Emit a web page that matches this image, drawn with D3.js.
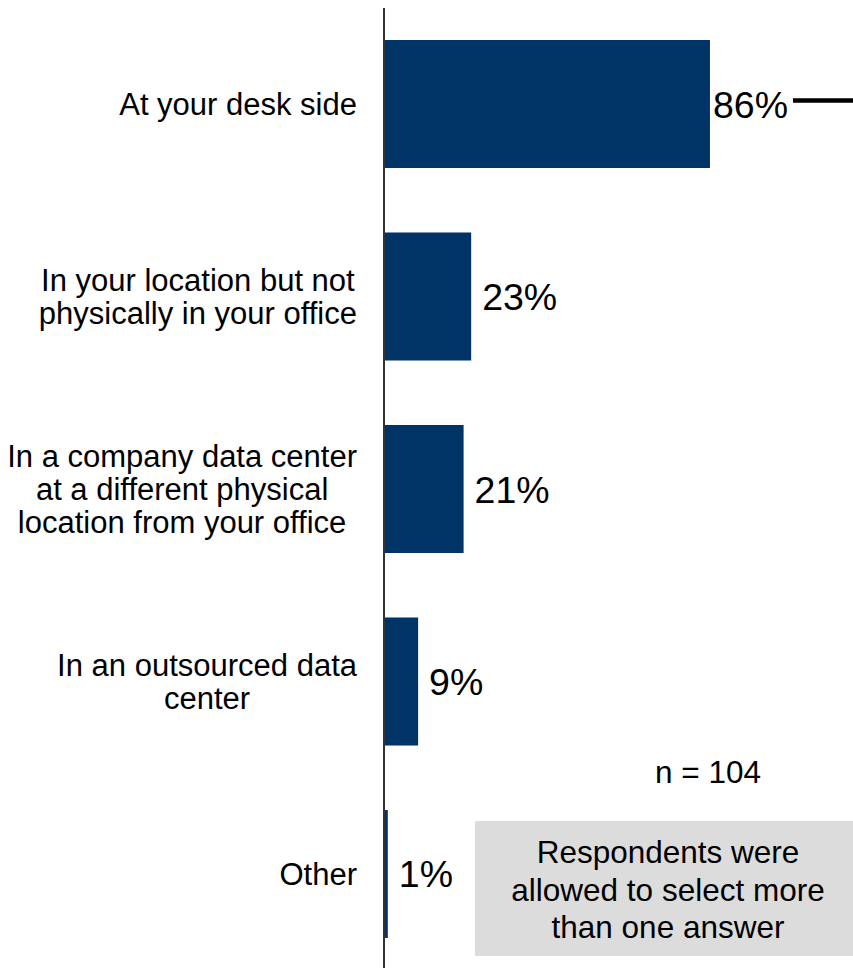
<!DOCTYPE html>
<html>
<head>
<meta charset="utf-8">
<script src="https://cdn.jsdelivr.net/npm/d3@7"></script>
<style>
  html, body { margin: 0; padding: 0; background: #fff; }
  svg { display: block; }
  text { font-family: "Liberation Sans", Arial, sans-serif; fill: #000; }
</style>
</head>
<body>
<script>
// Where respondents' servers are located (multiple answers allowed)
const categories = [
  "At your desk side",
  "In your location but not physically in your office",
  "In a company data center at a different physical location from your office",
  "In an outsourced data center",
  "Other"
];
const categoryLines = [
  ["At your desk side"],
  ["In your location but not", "physically in your office"],
  ["In a company data center", "at a different physical", "location from your office"],
  ["In an outsourced data", "center"],
  ["Other"]
];
const values = [86, 23, 21, 9, 1];
const sampleNote = "n = 104";
const boxNote = ["Respondents were", "allowed to select more", "than one answer"];

const W = 853, H = 968;

const svg = d3.select("body").append("svg").attr("width", W).attr("height", H);

const x = d3.scaleLinear().domain([0, 100]).range([384, 763]);
const y = d3.scaleBand().domain(categories).range([40, 938]).paddingInner(0.335).paddingOuter(0);

// bars
svg.append("g").selectAll("rect").data(values).join("rect")
  .attr("x", x(0) + 1)
  .attr("y", (d, i) => y(categories[i]))
  .attr("width", d => x(d) - x(0) - 1)
  .attr("height", y.bandwidth())
  .attr("fill", "#003366");

// axis line
svg.append("line")
  .attr("x1", x(0)).attr("x2", x(0))
  .attr("y1", 8).attr("y2", H)
  .attr("stroke", "#333").attr("stroke-width", 2);

// category labels: block right-aligned, lines centred within block
const labelRight = 357, lineGap = 33, catSize = 31;
const catG = svg.append("g");
categoryLines.forEach((lines, i) => {
  const cy = y(categories[i]) + y.bandwidth() / 2;
  const widths = lines.map(l => {
    const t = catG.append("text").attr("font-size", catSize).text(l);
    const w = t.node().getComputedTextLength();
    t.remove();
    return w;
  });
  const cx = labelRight - d3.max(widths) / 2;
  const n = lines.length;
  lines.forEach((l, j) => {
    catG.append("text")
      .attr("font-size", catSize)
      .attr("text-anchor", "middle")
      .attr("x", cx)
      .attr("y", cy + (j - (n - 1) / 2) * lineGap + catSize * 0.36)
      .text(l);
  });
});

// value labels, kept inside the plot area on the right
const valSize = 37.5, plotRight = 788;
const valG = svg.append("g");
values.forEach((v, i) => {
  const cy = y(categories[i]) + y.bandwidth() / 2;
  const t = valG.append("text")
    .attr("font-size", valSize)
    .attr("y", cy + valSize * 0.36)
    .text(v + "%");
  const w = t.node().getComputedTextLength();
  let lx = x(v) + 11;
  if (lx + w > plotRight) lx = plotRight - w;
  t.attr("x", lx);
});

// marker line at right
svg.append("line")
  .attr("x1", 793).attr("x2", W)
  .attr("y1", 100.5).attr("y2", 100.5)
  .attr("stroke", "#000").attr("stroke-width", 4.5);

// sample size
svg.append("text")
  .attr("font-size", 31.5)
  .attr("text-anchor", "middle")
  .attr("x", 708).attr("y", 783)
  .text(sampleNote);

// note box
svg.append("rect")
  .attr("x", 475).attr("y", 821)
  .attr("width", W - 475).attr("height", 135)
  .attr("fill", "#dcdcdc");
boxNote.forEach((l, j) => {
  svg.append("text")
    .attr("font-size", 31.5)
    .attr("text-anchor", "middle")
    .attr("x", 668).attr("y", 863 + j * 37.5)
    .text(l);
});
</script>
</body>
</html>
